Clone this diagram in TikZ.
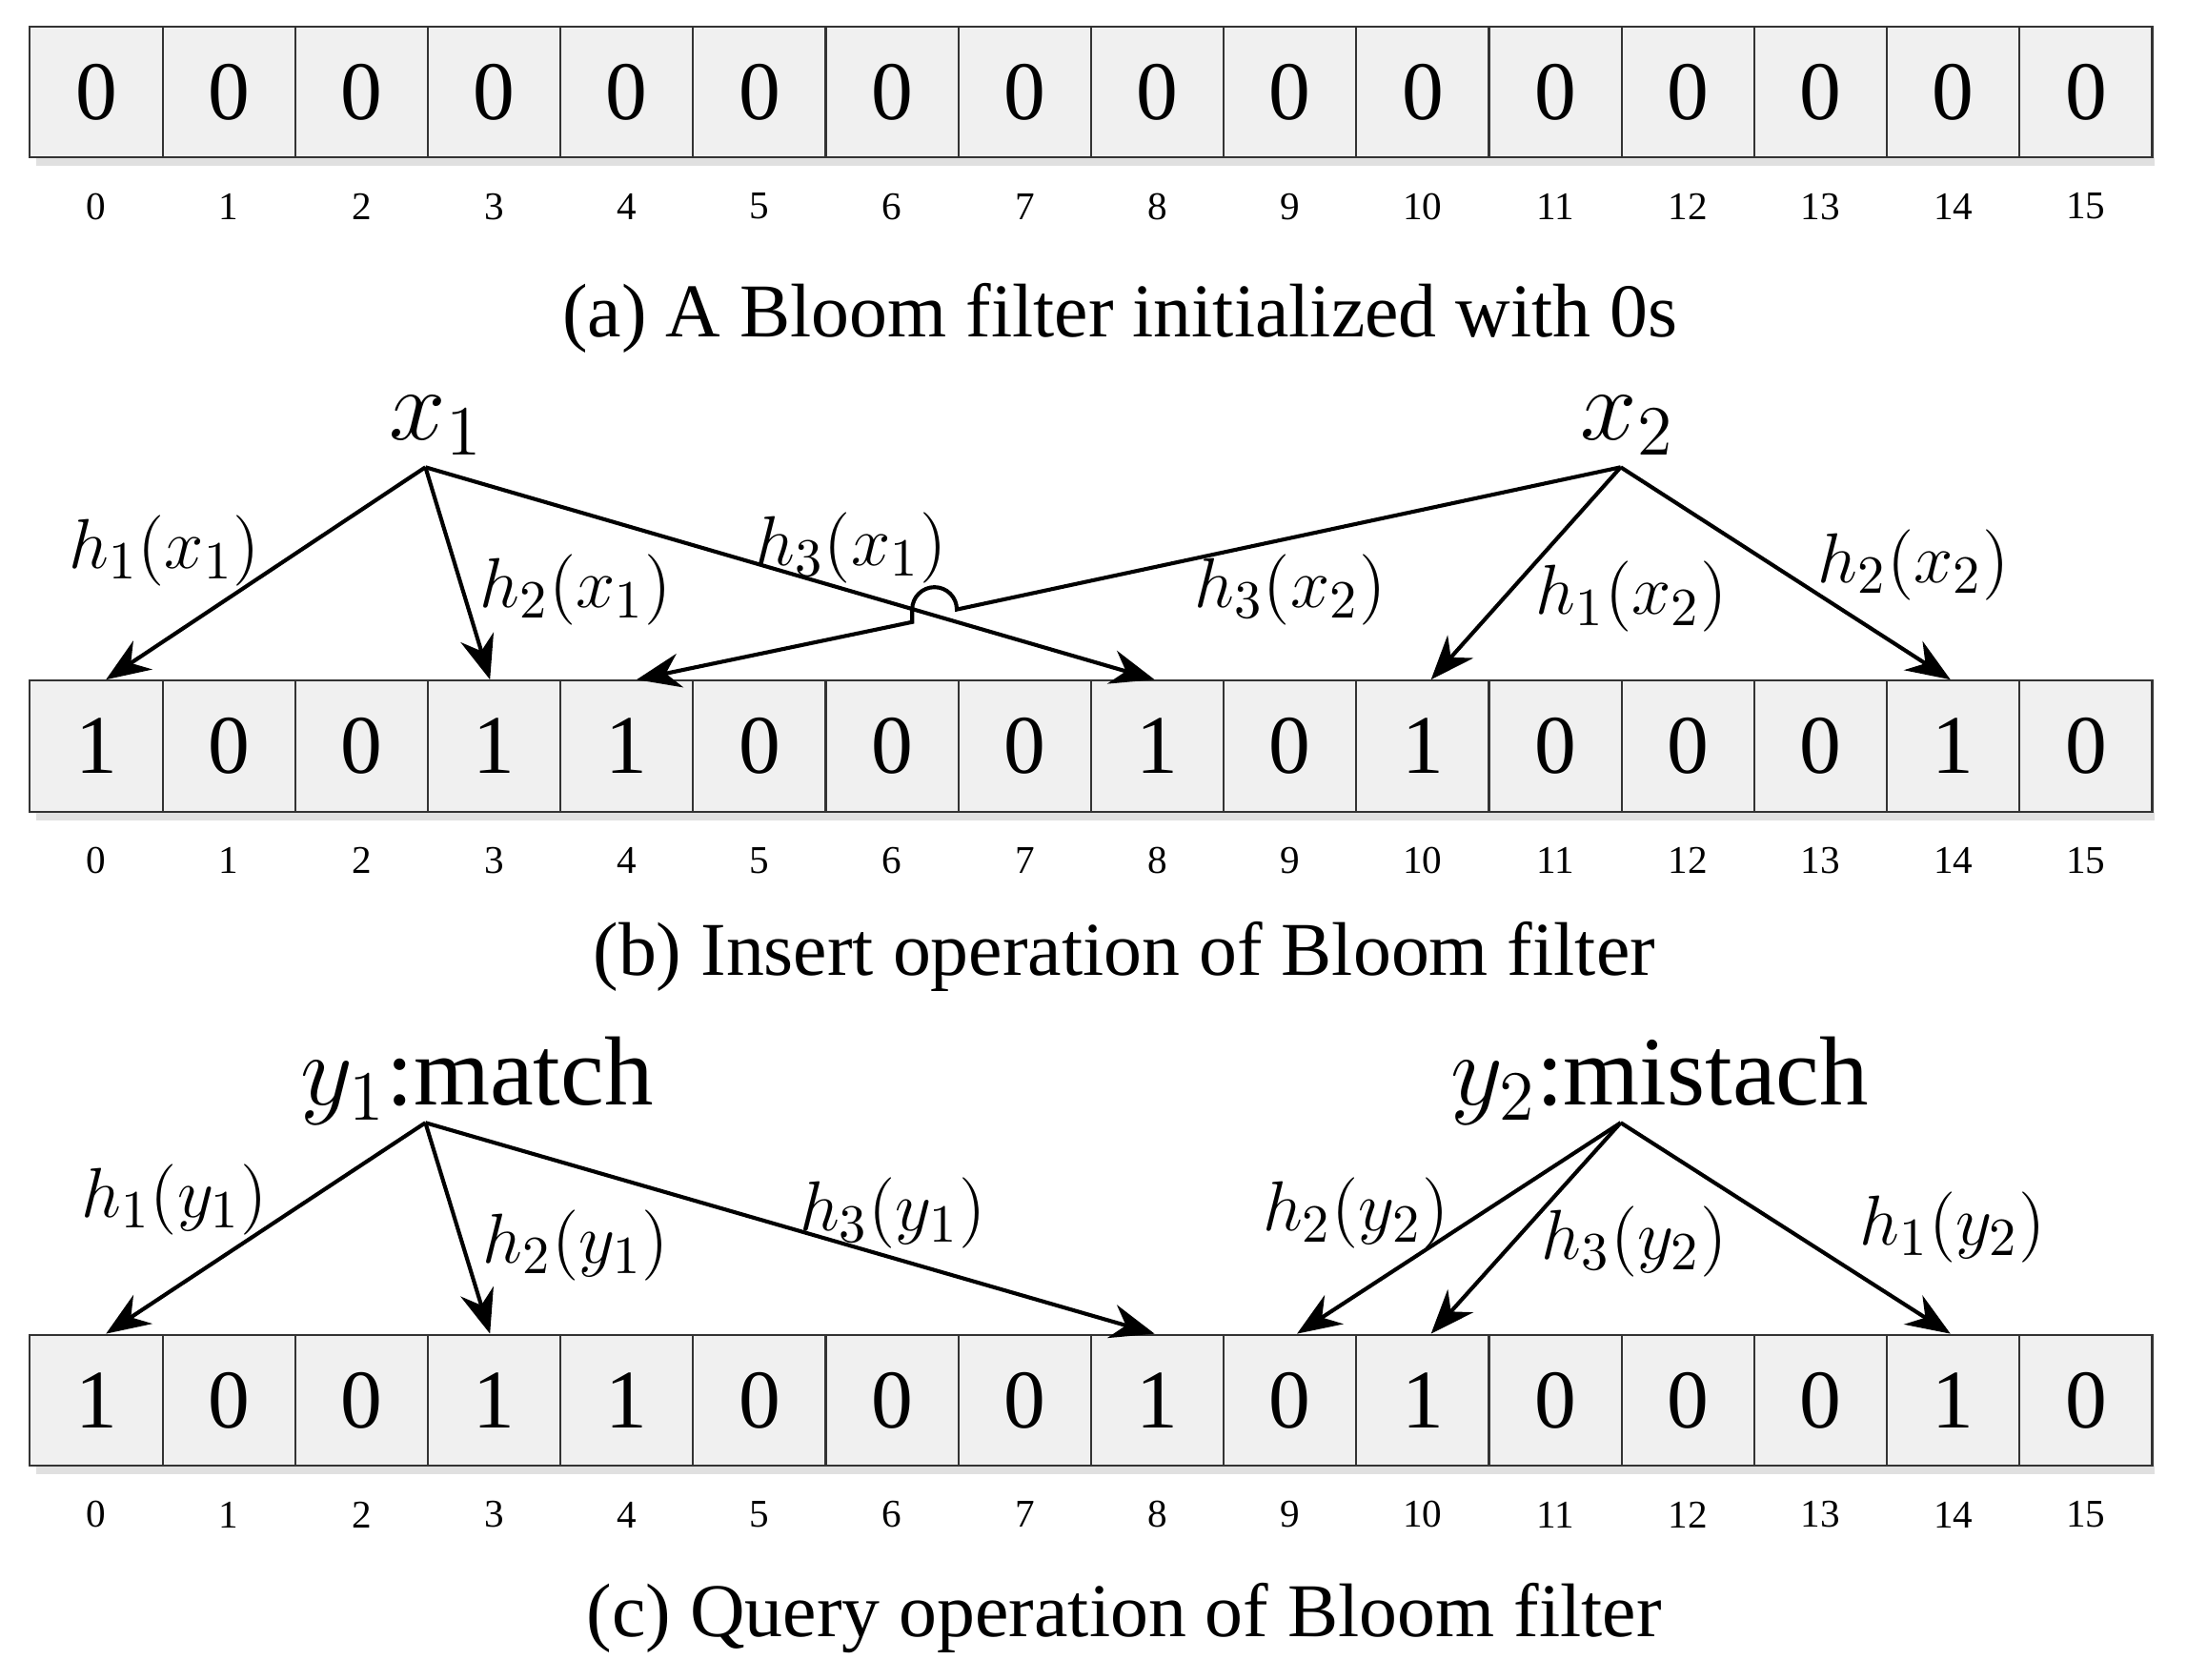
\documentclass[tikz,border=0pt]{standalone}
\usepackage{fontspec}
\setmainfont{Liberation Serif}
\usetikzlibrary{arrows.meta}
\begin{document}
\begin{tikzpicture}
        [x=0.01cm,y=-0.01cm,
        celldecorate/.style={shape=rectangle,draw=black!80,fill=black!6,minimum width=0.951cm,minimum height=0.94cm,inner sep=0pt,font=\fontsize{17}{17}\selectfont},%
        indexdecorate/.style={font=\fontsize{8}{8}\selectfont},%
        captiondecorate/.style={font=\fontsize{15.5}{15.5}\selectfont},%
        keydecorate/.style={font=\fontsize{20}{20}\selectfont},%
        hashdecorate/.style={font=\fontsize{15}{15}\selectfont},%
        arrowdecorate/.style={-{Stealth[length=9pt,width=7pt]},thick}]
        \useasboundingbox (0,0) rectangle (1568,1204);
        %% bit arrays
        \foreach \row/\y/\bits in {a/66/{0,0,0,0,0,0,0,0,0,0,0,0,0,0,0,0},
          b/535/{1,0,0,1,1,0,0,0,1,0,1,0,0,0,1,0}, c/1004/{1,0,0,1,1,0,0,0,1,0,1,0,0,0,1,0}}
        {
          \fill[black!12] (26,\y+47) rectangle (1545,\y+53);
          \foreach \b [count=\i from 0] in \bits
          {
            \node (\row\i) at (69+95.1*\i,\y) [celldecorate] {\b};
            \node [indexdecorate] at (69+95.1*\i,\y+82) {\i};
          }
        }
        %% captions
        \node [captiondecorate] (capa) at (803,228) {(a) A Bloom filter initialized with 0s};
        \node [captiondecorate] (capb) at (806,686) {(b) Insert operation of Bloom filter};
        \node [captiondecorate] (capc) at (806,1160) {(c) Query operation of Bloom filter};
        %% keys
        \node [keydecorate] (x1) at (313,305) {$x_1$};
        \node [keydecorate] (x2) at (1167,305) {$x_2$};
        \node [keydecorate] (y1) at (342,775) {$y_1$:match};
        \node [keydecorate] (y2) at (1190,775) {$y_2$:mistach};
        \coordinate (sx1) at (305,335);
        \coordinate (sx2) at (1162,335);
        \coordinate (sy1) at (305,805);
        \coordinate (sy2) at (1162,805);
        %% edges
        \path
        \foreach \startnode/\endnode/\dx in {sx1/b0/7, sx1/b3/-3, sx1/b8/-2, sx2/b10/6, sx2/b14/-2,
          sy1/c0/7, sy1/c3/-3, sy1/c8/-2, sy2/c9/5, sy2/c10/6, sy2/c14/-2}
        {
          (\startnode) edge[arrowdecorate] ([xshift=\dx*0.01cm]\endnode.north) 
        };
        \draw[arrowdecorate] (sx2) -- (686,437) arc[start angle=0,end angle=-180,radius=16] -- (654,446) -- ([xshift=2pt]b4.north);
        %% hash labels
        \foreach \lbl/\x/\y in {h_1(x_1)/118/395, h_2(x_1)/413/423, h_3(x_1)/610/393, h_3(x_2)/925/423,
          h_1(x_2)/1170/428, h_2(x_2)/1372/405, h_1(y_1)/125/860, h_2(y_1)/413/893, h_3(y_1)/640/870,
          h_2(y_2)/972/870, h_3(y_2)/1172/890, h_1(y_2)/1400/880}
        {
          \node [hashdecorate] at (\x,\y) {$\lbl$};
        }
      \end{tikzpicture}
\end{document}
